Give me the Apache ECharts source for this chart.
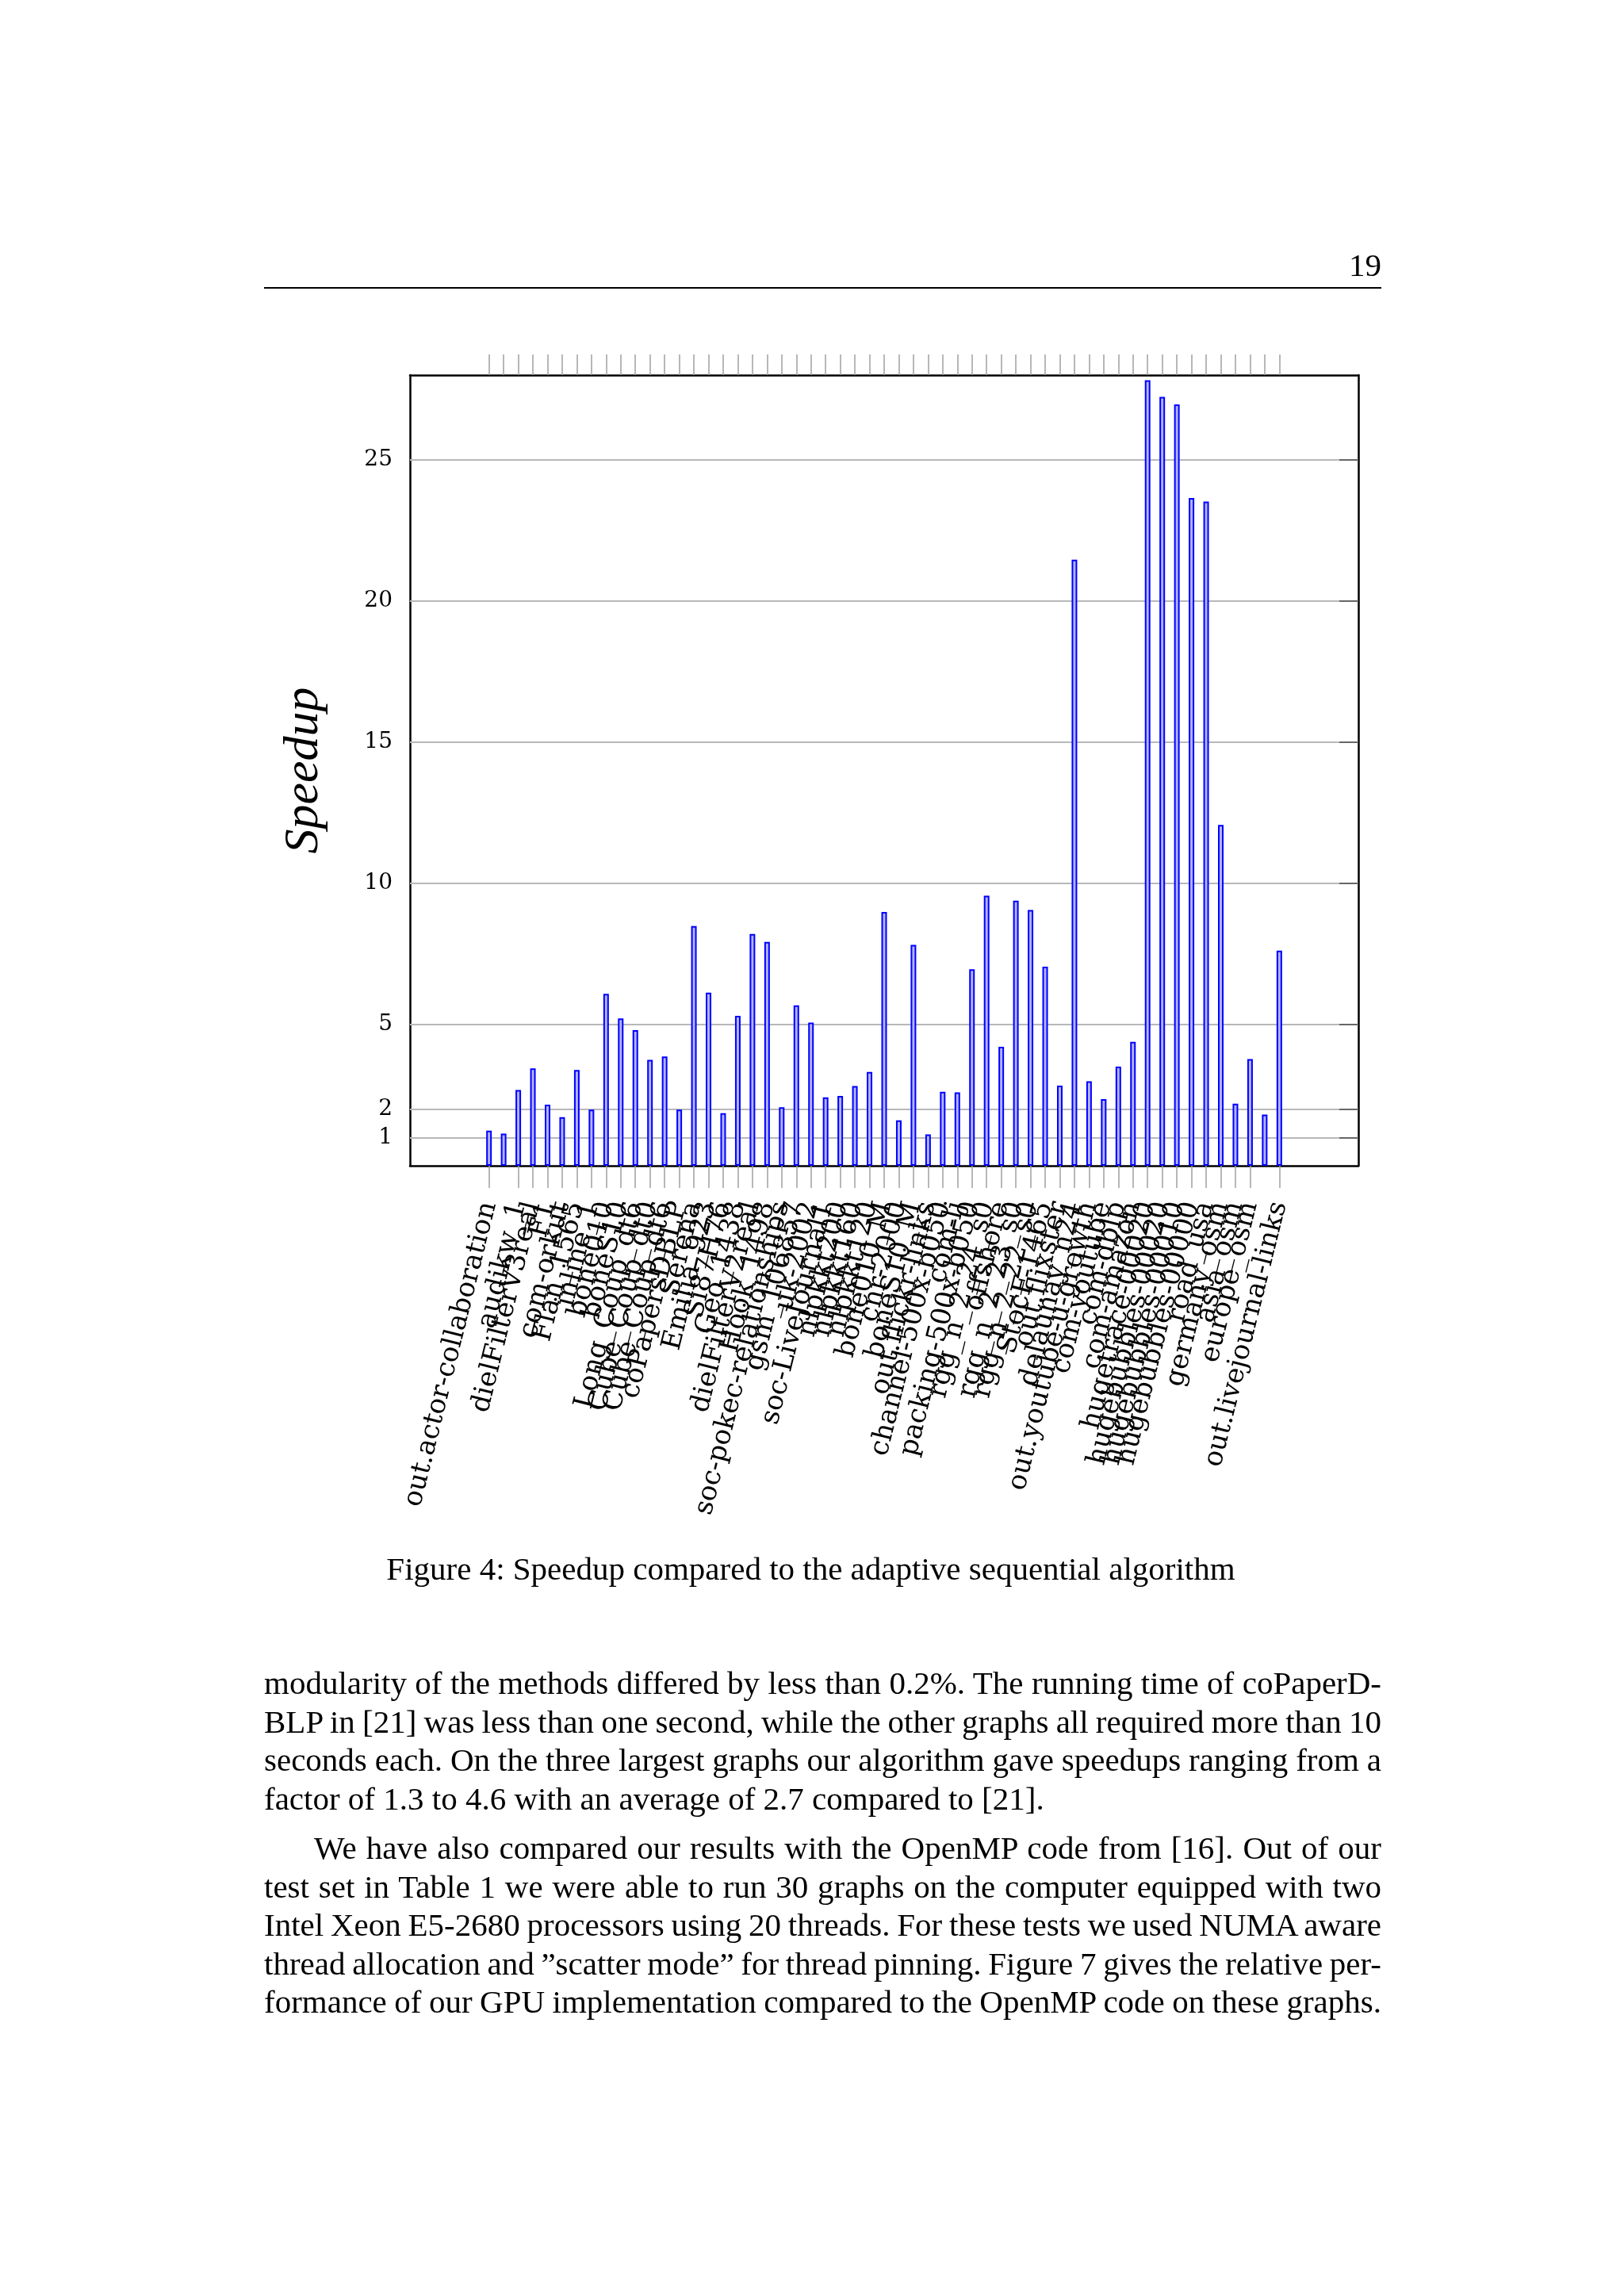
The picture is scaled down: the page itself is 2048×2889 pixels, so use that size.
<!DOCTYPE html>
<html>
<head>
<meta charset="utf-8">
<script src="https://cdn.jsdelivr.net/npm/echarts/dist/echarts.min.js"></script>
<style>
  html, body { margin: 0; padding: 0; background: #ffffff; }
  #page { position: relative; width: 2048px; height: 2889px; overflow: hidden; background: #ffffff; }
  #chart { position: absolute; left: 0; top: 0; width: 2048px; height: 2889px; }
  .txt { position: absolute; font-family: "Liberation Serif", "Times New Roman", serif; font-size: 41px; color: #000; line-height: 48.5px; }
  .line { display: block; white-space: nowrap; text-align: justify; text-align-last: justify; width: 1409px; height: 48.5px; word-spacing: -4px; }
  .last { text-align: left; text-align-last: left; word-spacing: 0; }
</style>
</head>
<body>
<div id="page">
  <div id="chart"></div>
  <div class="txt" style="left:1600px; width:142px; top:314px; text-align:right; line-height:41px;">19</div>
  <div style="position:absolute; left:333px; top:362px; width:1409px; height:2px; background:#000;"></div>
  <div class="txt" style="left:333px; width:1379px; top:1954px; text-align:center;">Figure 4: Speedup compared to the adaptive sequential algorithm</div>
  <div class="txt" style="left:333px; top:2098px; width:1409px;">
    <span class="line">modularity of the methods differed by less than 0.2%. The running time of coPaperD-</span>
    <span class="line">BLP in [21] was less than one second, while the other graphs all required more than 10</span>
    <span class="line">seconds each. On the three largest graphs our algorithm gave speedups ranging from a</span>
    <span class="line last">factor of 1.3 to 4.6 with an average of 2.7 compared to [21].</span>
  </div>
  <div class="txt" style="left:333px; top:2306px; width:1409px;">
    <span class="line" style="text-indent:63px;">We have also compared our results with the OpenMP code from [16]. Out of our</span>
    <span class="line">test set in Table 1 we were able to run 30 graphs on the computer equipped with two</span>
    <span class="line">Intel Xeon E5-2680 processors using 20 threads. For these tests we used NUMA aware</span>
    <span class="line">thread allocation and ”scatter mode” for thread pinning. Figure 7 gives the relative per-</span>
    <span class="line">formance of our GPU implementation compared to the OpenMP code on these graphs.</span>
  </div>
</div>
<script>
const categories = [
  "out.actor-collaboration", "hollywood-2009", "audikw_1", "dielFilterV3real", "F1",
  "com-orkut", "Flan_1565", "inline_1", "bone010", "boneS10",
  "Long_Coup_dt6", "Cube_Coup_dt0", "Cube_Coup_dt6", "coPapersDBLP", "Serena",
  "Emilia_923", "Si87H76", "Geo_1438", "dielFilterV2real", "Hook_1498",
  "soc-pokec-relationships", "gsm_106857", "uk-2002", "soc-LiveJournal1", "nlpkkt200",
  "nlpkkt160", "nlpkkt120", "bone010_M", "cnr-2000", "boneS10_M",
  "out.flickr-links", "channel-500x-b050", "com-lj", "packing-500x-b050", "rgg_n_2_24_s0",
  "offshore", "rgg_n_2_23_s0", "rgg_n_2_22_s0", "StocF-1465", "out.flixster",
  "delaunay_n24", "out.youtube-u-growth", "com-youtube", "com-dblp", "com-amazon",
  "hugetrace-00020", "hugebubbles-00020", "hugebubbles-00010", "hugebubbles-00000", "road_usa",
  "germany_osm", "asia_osm", "europe_osm", "italy_osm", "out.livejournal-links"
];
const speedups = [
  1.24, 1.14, 2.68, 3.45, 2.16,
  1.72, 3.39, 1.99, 6.09, 5.22,
  4.80, 3.75, 3.87, 1.99, 8.49,
  6.13, 1.86, 5.31, 8.21, 7.93,
  2.07, 5.68, 5.07, 2.42, 2.47,
  2.82, 3.32, 8.99, 1.61, 7.82,
  1.11, 2.62, 2.60, 6.96, 9.56,
  4.21, 9.39, 9.06, 7.05, 2.84,
  21.46, 2.99, 2.36, 3.51, 4.39,
  27.82, 27.23, 26.96, 23.65, 23.52,
  12.07, 2.20, 3.78, 1.81, 7.62
];
const yTickValues = [1, 2, 5, 10, 15, 20, 25];
const yLabel = "Speedup";

const catIndex = categories.map(function (_, i) { return i; });
const frame = { show: true, onZero: false, lineStyle: { color: '#000', width: 2.5 } };

const chart = echarts.init(document.getElementById('chart'), null, { renderer: 'canvas' });
chart.setOption({
  animation: false,
  backgroundColor: 'transparent',
  grid: { left: 517, top: 473, width: 1196, height: 997, containLabel: false },
  xAxis: [
    {
      type: 'value', position: 'bottom', min: -5.4, max: 59.4,
      axisLine: frame,
      axisTick: { show: true, customValues: catIndex, length: 28, lineStyle: { color: '#a0a0a0', width: 1.5 } },
      axisLabel: {
        show: true, customValues: catIndex, rotate: 76, margin: 46,
        showMinLabel: true, showMaxLabel: true, hideOverlap: false,
        formatter: function (v) { return categories[Math.round(v)]; },
        fontFamily: 'DejaVu Serif', fontSize: 34, color: '#000'
      },
      splitLine: { show: false }
    },
    {
      type: 'value', position: 'top', min: -5.4, max: 59.4,
      axisLine: frame,
      axisTick: { show: true, customValues: catIndex, length: 26, lineStyle: { color: '#a0a0a0', width: 1.5 } },
      axisLabel: { show: false },
      splitLine: { show: false }
    }
  ],
  yAxis: [
    {
      type: 'value', position: 'left', min: 0, max: 28,
      axisLine: frame,
      axisTick: { show: true, inside: true, customValues: yTickValues, length: 24, lineStyle: { color: '#b8b8b8', width: 2 } },
      axisLabel: { show: true, customValues: yTickValues, margin: 22, showMinLabel: true, showMaxLabel: true,
                   fontFamily: 'DejaVu Serif', fontSize: 28, color: '#000' },
      splitLine: { show: true, lineStyle: { color: '#b8b8b8', width: 2 } },
      name: yLabel, nameLocation: 'middle', nameGap: 102,
      nameTextStyle: { fontFamily: 'Liberation Serif', fontStyle: 'italic', fontSize: 62, color: '#000' }
    },
    {
      type: 'value', position: 'right', min: 0, max: 28,
      axisLine: frame,
      axisTick: { show: true, inside: true, customValues: yTickValues, length: 24, lineStyle: { color: '#666', width: 2 } },
      axisLabel: { show: false },
      splitLine: { show: false }
    }
  ],
  series: [
    {
      type: 'bar', xAxisIndex: 0, yAxisIndex: 0,
      data: speedups.map(function (v, i) { return [i, v]; }),
      barWidth: 7,
      itemStyle: { color: '#b3b3ff', borderColor: '#0000ff', borderWidth: 2 }
    }
  ]
});
</script>
</body>
</html>
